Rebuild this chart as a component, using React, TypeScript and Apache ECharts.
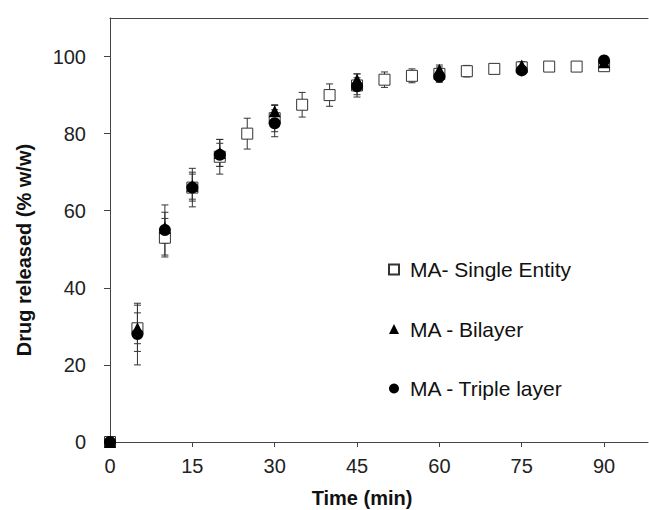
import React, { useEffect, useRef } from "react";
import * as echarts from "echarts";

const timeSingle = [0, 5, 10, 15, 20, 25, 30, 35, 40, 45, 50, 55, 60, 65, 70, 75, 80, 85, 90];
const singleEntity = [0, 29.5, 53, 66, 74, 80, 84, 87.5, 90, 92.5, 94, 95, 95.5, 96.2, 96.8, 97.2, 97.4, 97.4, 97.5];
const singleErr = [0, 6, 5, 5, 4.5, 4, 3.5, 3.2, 2.9, 3, 2, 1.8, 1.8, 1.5, 1, 1, 0.6, 0.6, 0.6];

const timeLayers = [0, 5, 10, 15, 20, 30, 45, 60, 75, 90];
const bilayer = [0, 29.5, 55.6, 66.5, 75, 85.8, 94, 96.6, 97.7, 98.5];
const bilayerErr = [0, 4, 4, 3.5, 3.5, 1.5, 1.5, 1.2, 1, 0.8];
const tripleLayer = [0, 28, 55, 66, 74.5, 82.7, 92.3, 94.8, 96.4, 99];
const tripleErr = [0, 8, 6.5, 3.5, 3, 3.5, 2.2, 1.5, 1, 0.8];

const xTicks = [0, 15, 30, 45, 60, 75, 90];
const yTicks = [0, 20, 40, 60, 80, 100];

const FONT = "'Liberation Sans', Arial, sans-serif";

function errSeries(name: string, xs: number[], ys: number[], es: number[]) {
  return {
    type: "custom",
    name: name + "-err",
    z: 1,
    silent: true,
    data: xs.map((x, i) => [x, ys[i] - es[i], ys[i] + es[i]]),
    renderItem: (_p: any, api: any) => {
      const lo = api.coord([api.value(0), api.value(1)]);
      const hi = api.coord([api.value(0), api.value(2)]);
      const hw = 3.5;
      const st = { stroke: "#333", lineWidth: 1 };
      return {
        type: "group",
        children: [
          { type: "line", shape: { x1: lo[0], y1: lo[1], x2: hi[0], y2: hi[1] }, style: st },
          { type: "line", shape: { x1: lo[0] - hw, y1: lo[1], x2: lo[0] + hw, y2: lo[1] }, style: st },
          { type: "line", shape: { x1: hi[0] - hw, y1: hi[1], x2: hi[0] + hw, y2: hi[1] }, style: st },
        ],
      };
    },
  };
}

export default function App() {
  const ref = useRef<HTMLDivElement>(null);
  useEffect(() => {
    if (!ref.current) return;
    const chart = echarts.init(ref.current, undefined, { renderer: "svg" });
    chart.setOption({
      animation: false,
      backgroundColor: "#fff",
      textStyle: { fontFamily: FONT },
      grid: { left: 110, right: 1, top: 18, bottom: 68, containLabel: false },
      xAxis: [
        {
          type: "value",
          min: 0,
          max: 98,
          interval: 15,
          axisLine: { show: true, lineStyle: { color: "#444", width: 1 } },
          axisTick: { show: true, length: 5, inside: false, lineStyle: { color: "#444" } },
          axisLabel: {
            color: "#222",
            fontSize: 20,
            fontFamily: FONT,
            margin: 14,
            showMaxLabel: false,
            formatter: (v: number) => (xTicks.includes(v) ? String(v) : ""),
          },
          splitLine: { show: false },
        },
        {
          type: "value",
          position: "top",
          min: 0,
          max: 98,
          axisLine: { show: true, onZero: false, lineStyle: { color: "#444", width: 1 } },
          axisTick: { show: false },
          axisLabel: { show: false },
          splitLine: { show: false },
        },
      ],
      yAxis: {
        type: "value",
        min: 0,
        max: 110,
        interval: 20,
        axisLine: { show: true, lineStyle: { color: "#444", width: 1 } },
        axisTick: { show: true, length: 6, lineStyle: { color: "#444" } },
        axisLabel: {
          color: "#222",
          fontSize: 20,
          fontFamily: FONT,
          margin: 24,
          showMaxLabel: false,
          formatter: (v: number) => (yTicks.includes(v) ? String(v) : ""),
        },
        splitLine: { show: false },
      },
      legend: {
        orient: "vertical",
        left: 388,
        top: 259,
        padding: 0,
        itemGap: 38.5,
        itemWidth: 10,
        itemHeight: 10,
        textStyle: { fontSize: 21, color: "#111", fontFamily: FONT, padding: [0, 0, 0, 6] },
        data: ["MA- Single Entity", "MA - Bilayer", "MA - Triple layer"],
      },
      graphic: [
        {
          type: "text",
          x: 24,
          y: 250,
          rotation: Math.PI / 2,
          style: {
            text: "Drug released (% w/w)",
            fontSize: 20,
            fontWeight: "bold",
            fontFamily: FONT,
            fill: "#111",
            align: "center",
            verticalAlign: "middle",
          },
        },
        {
          type: "text",
          x: 362,
          y: 498,
          style: {
            text: "Time (min)",
            fontSize: 20,
            fontWeight: "bold",
            fontFamily: FONT,
            fill: "#111",
            align: "center",
            verticalAlign: "middle",
          },
        },
      ],
      series: [
        errSeries("MA- Single Entity", timeSingle, singleEntity, singleErr),
        errSeries("MA - Bilayer", timeLayers, bilayer, bilayerErr),
        errSeries("MA - Triple layer", timeLayers, tripleLayer, tripleErr),
        {
          type: "scatter",
          name: "MA- Single Entity",
          z: 2,
          symbol: "rect",
          symbolSize: 11,
          itemStyle: { color: "#fff", borderColor: "#333", borderWidth: 1, opacity: 1 },
          data: timeSingle.map((x, i) => [x, singleEntity[i]]),
        },
        {
          type: "scatter",
          name: "MA - Bilayer",
          z: 3,
          symbol: "triangle",
          symbolSize: 12,
          itemStyle: { color: "#000", opacity: 1 },
          data: timeLayers.map((x, i) => [x, bilayer[i]]),
        },
        {
          type: "scatter",
          name: "MA - Triple layer",
          z: 4,
          symbol: "circle",
          symbolSize: 12,
          itemStyle: { color: "#000", opacity: 1 },
          data: timeLayers.map((x, i) => [x, tripleLayer[i]]),
        },
      ],
    });
    return () => chart.dispose();
  }, []);
  return <div ref={ref} style={{ width: 649, height: 510, position: "absolute", left: 0, top: 0 }} />;
}
